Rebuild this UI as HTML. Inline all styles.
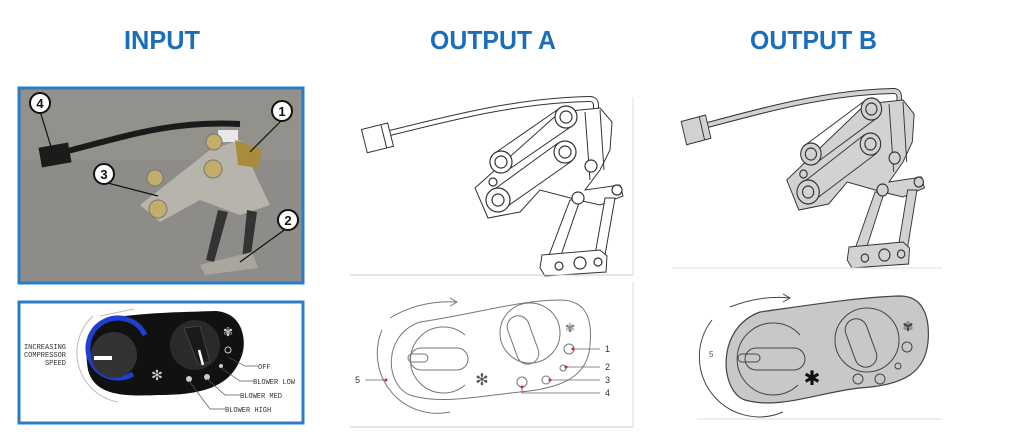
<!DOCTYPE html>
<html><head><meta charset="utf-8"><style>html,body{margin:0;padding:0;background:#fff}svg{display:block}</style></head>
<body>
<svg width="1024" height="443" viewBox="0 0 1024 443" xmlns="http://www.w3.org/2000/svg" font-family="Liberation Sans, sans-serif">
<defs>
<g id="mech">
  <path d="M390,133 C450,118 520,100 590,99 Q596,99 596,106 L596,113" fill="none" stroke="#333" stroke-width="6"/>
  <path d="M390,133 C450,118 520,100 590,99 Q596,99 596,106 L596,113" fill="none" stroke="currentColor" stroke-width="4"/>
  <g transform="rotate(-14 377 138)"><rect x="364" y="126" width="27" height="24" fill="currentColor" stroke="#333" stroke-width="1"/><line x1="384" y1="126" x2="384" y2="150" stroke="#333"/></g>
  <path d="M475,188 L560,112 L600,108 L612,122 L610,150 L600,170 L585,190 L620,185 L623,196 L600,205 L578,200 L540,190 L520,212 L488,218 Z" fill="currentColor" stroke="#333" stroke-width="1"/>
  <g stroke="#333" stroke-width="1" fill="none">
    <path d="M495,153 L560,108 M508,170 L572,126"/>
    <path d="M492,191 L558,143 M505,208 L572,161"/>
    <path d="M585,112 L590,180 M600,110 L604,170"/>
  </g>
  <path d="M570,200 L580,200 L560,258 L548,258 Z M605,198 L615,198 L605,255 L595,255 Z" fill="currentColor" stroke="#333" stroke-width="1"/>
  <path d="M542,255 L600,250 L607,256 L606,272 L545,276 L540,268 Z" fill="currentColor" stroke="#333" stroke-width="1"/>
  <g fill="currentColor" stroke="#333" stroke-width="1.2">
    <circle cx="566" cy="117" r="11"/><circle cx="566" cy="117" r="6"/>
    <circle cx="565" cy="152" r="11"/><circle cx="565" cy="152" r="6"/>
    <circle cx="501" cy="162" r="11"/><circle cx="501" cy="162" r="6"/>
    <circle cx="498" cy="200" r="12"/><circle cx="498" cy="200" r="6"/>
    <circle cx="493" cy="182" r="4"/>
    <circle cx="591" cy="166" r="6"/><circle cx="578" cy="198" r="6"/><circle cx="617" cy="190" r="5"/>
    <circle cx="580" cy="263" r="6"/><circle cx="559" cy="266" r="4"/><circle cx="598" cy="262" r="4"/>
  </g>
</g>
</defs>

<g fill="#1b6fb8" font-weight="bold" font-size="26">
  <text x="124" y="49" textLength="76" lengthAdjust="spacingAndGlyphs">INPUT</text>
  <text x="430" y="49" textLength="126" lengthAdjust="spacingAndGlyphs">OUTPUT A</text>
  <text x="750" y="49" textLength="127" lengthAdjust="spacingAndGlyphs">OUTPUT B</text>
</g>

<!-- INPUT photo -->
<rect x="19" y="88" width="284" height="195" fill="#8d8c88" stroke="#2b7cc6" stroke-width="3"/>
<rect x="21" y="90" width="280" height="70" fill="#96958f" opacity="0.6"/>
<path d="M60,153 C120,138 170,120 240,124" fill="none" stroke="#1a1a1a" stroke-width="6"/>
<rect x="40" y="145" width="30" height="20" fill="#1b1b1b" transform="rotate(-10 55 155)"/>
<path d="M140,205 L210,150 L240,140 L258,180 L270,205 L240,215 L200,200 L160,222 Z" fill="#b7b4ac"/>
<rect x="218" y="130" width="20" height="12" fill="#e8e8e8"/>
<path d="M235,140 L262,150 L258,168 L238,165 Z" fill="#a88b3b"/>
<path d="M218,210 L228,212 L214,262 L206,260 Z M247,210 L257,212 L250,262 L242,260 Z" fill="#333"/>
<path d="M200,265 L252,252 L258,268 L205,275 Z" fill="#aaa69e"/>
<g fill="#c2ad6a" stroke="#777"><circle cx="155" cy="178" r="8"/><circle cx="158" cy="209" r="9"/><circle cx="213" cy="169" r="9"/><circle cx="214" cy="142" r="8"/></g>
<g stroke="#111" stroke-width="1.2"><line x1="40" y1="111" x2="52" y2="150"/><line x1="282" y1="120" x2="250" y2="152"/><line x1="104" y1="182" x2="158" y2="196"/><line x1="287" y1="228" x2="240" y2="262"/></g>
<g fill="#fff" stroke="#111" stroke-width="2"><circle cx="40" cy="103" r="10"/><circle cx="282" cy="111" r="10"/><circle cx="104" cy="174" r="10"/><circle cx="288" cy="220" r="10"/></g>
<g font-size="13" font-weight="bold" text-anchor="middle" fill="#111"><text x="40" y="108">4</text><text x="282" y="116">1</text><text x="104" y="179">3</text><text x="288" y="225">2</text></g>

<!-- INPUT panel -->
<rect x="19" y="302" width="284" height="121" fill="#fff" stroke="#2b7cc6" stroke-width="3"/>
<path d="M110,318 C150,312 190,312 215,311 C245,312 248,345 240,360 C230,385 205,395 160,395 C130,396 95,398 88,370 C83,340 90,322 110,318 Z" fill="#111"/>
<path d="M93,316 A50,50 0 0 0 118,402" fill="none" stroke="#bbb" stroke-width="1"/>
<path d="M100,316 L134,309" fill="none" stroke="#bbb"/>
<path d="M145,335 A30,30 0 1 0 133,374" fill="none" stroke="#1f3fd0" stroke-width="5"/>
<circle cx="114" cy="355" r="23" fill="#333"/>
<rect x="94" y="356" width="18" height="4" fill="#fff"/>
<circle cx="195" cy="345" r="25" fill="#2a2a2a"/>
<path d="M184,328 L200,326 L210,362 L198,364 Z" fill="#1a1a1a" stroke="#444"/>
<line x1="199" y1="350" x2="203" y2="365" stroke="#fff" stroke-width="2.5"/>
<g fill="#ccc"><circle cx="189" cy="379" r="3"/><circle cx="207" cy="377" r="3"/><circle cx="221" cy="366" r="2"/></g>
<circle cx="228" cy="350" r="3" fill="none" stroke="#ccc"/>
<text x="157" y="380" fill="#ccc" font-size="14" text-anchor="middle">✻</text>
<text x="228" y="336" fill="#ccc" font-size="12" text-anchor="middle">✾</text>
<g font-family="Liberation Mono, monospace" font-size="7" fill="#333">
<text x="66" y="349" text-anchor="end">INCREASING</text><text x="66" y="357" text-anchor="end">COMPRESSOR</text><text x="66" y="365" text-anchor="end">SPEED</text>
<text x="258" y="369">OFF</text><text x="253" y="384">BLOWER LOW</text><text x="240" y="398">BLOWER MED</text><text x="225" y="412">BLOWER HIGH</text>
</g>
<g fill="none" stroke="#555" stroke-width="0.7"><path d="M228,357 L245,366 L258,366"/><path d="M221,368 L240,381 L253,381"/><path d="M207,379 L225,395 L240,395"/><path d="M189,381 L210,409 L225,409"/></g>

<!-- OUTPUT A -->
<use href="#mech" color="#ffffff"/>
<line x1="350" y1="275" x2="633" y2="275" stroke="#ccc"/>
<line x1="633" y1="97" x2="633" y2="275" stroke="#ddd"/>
<line x1="350" y1="427" x2="633" y2="427" stroke="#ccc"/>
<line x1="633" y1="282" x2="633" y2="427" stroke="#ddd"/>
<g fill="none" stroke="#777" stroke-width="1">
<path d="M420,322 C470,315 520,300 560,300 C590,300 592,325 590,345 C588,375 565,388 520,392 C480,396 440,405 410,395 C385,385 382,335 420,322 Z"/>
<path d="M382,330 A60,60 0 0 0 450,412"/><path d="M390,318 Q420,300 457,302 M450,298 L457,302 L450,306"/>
<path d="M465,335 A33,33 0 1 0 465,385"/>
<rect x="410" y="348" width="58" height="22" rx="11"/><rect x="408" y="354" width="20" height="8" rx="4"/>
<circle cx="530" cy="333" r="30"/><rect x="512" y="315" width="22" height="50" rx="11" transform="rotate(-20 523 340)"/>
<circle cx="569" cy="349" r="5"/><circle cx="563" cy="368" r="3"/><circle cx="546" cy="380" r="4"/><circle cx="522" cy="382" r="5"/>
</g>
<text x="482" y="385" font-size="16" fill="#555" text-anchor="middle">✻</text>
<text x="570" y="332" font-size="12" fill="#777" text-anchor="middle">✾</text>
<g stroke="#666" stroke-width="0.8"><line x1="365" y1="380" x2="385" y2="380"/><line x1="572" y1="349" x2="600" y2="349"/><line x1="566" y1="367" x2="600" y2="367"/><line x1="550" y1="380" x2="600" y2="380"/><path d="M522,387 L522,393 L600,393" fill="none"/></g>
<g fill="#e02020"><circle cx="386" cy="380" r="1.5"/><circle cx="573" cy="349" r="1.5"/><circle cx="566" cy="367" r="1.5"/><circle cx="550" cy="380" r="1.5"/><circle cx="522" cy="387" r="1.5"/></g>
<g font-size="9" fill="#333"><text x="355" y="383">5</text><text x="605" y="352">1</text><text x="605" y="370">2</text><text x="605" y="383">3</text><text x="605" y="396">4</text></g>

<!-- OUTPUT B -->
<g transform="translate(345,-8) scale(0.93,1)"><use href="#mech" color="#d2d2d2"/></g>
<line x1="672" y1="268" x2="942" y2="268" stroke="#ddd"/>
<line x1="697" y1="419" x2="942" y2="419" stroke="#ddd"/>
<path d="M760,312 C810,305 860,297 900,296 C925,296 930,320 928,342 C925,372 905,385 860,388 C820,392 780,410 745,400 C720,392 715,328 760,312 Z" fill="#c8c8c8" stroke="#444" stroke-width="1.2"/>
<g fill="none" stroke="#444" stroke-width="1">
<path d="M712,320 A60,60 0 0 0 783,412"/><path d="M730,307 Q760,295 790,298 M783,294 L790,298 L783,302"/>
<path d="M800,335 A36,36 0 1 0 798,385"/>
<rect x="745" y="348" width="60" height="22" rx="11"/><rect x="738" y="354" width="22" height="8" rx="4"/>
<circle cx="867" cy="340" r="32"/><rect x="850" y="318" width="22" height="50" rx="11" transform="rotate(-20 861 343)"/>
<circle cx="907" cy="347" r="5"/><circle cx="858" cy="379" r="5"/><circle cx="880" cy="379" r="5"/><circle cx="898" cy="366" r="3"/>
</g>
<text x="812" y="385" font-size="20" fill="#111" text-anchor="middle">✱</text>
<text x="908" y="331" font-size="13" fill="#444" text-anchor="middle">✾</text>
<text x="709" y="357" font-size="8" fill="#555">5</text>
</svg>
</body></html>
